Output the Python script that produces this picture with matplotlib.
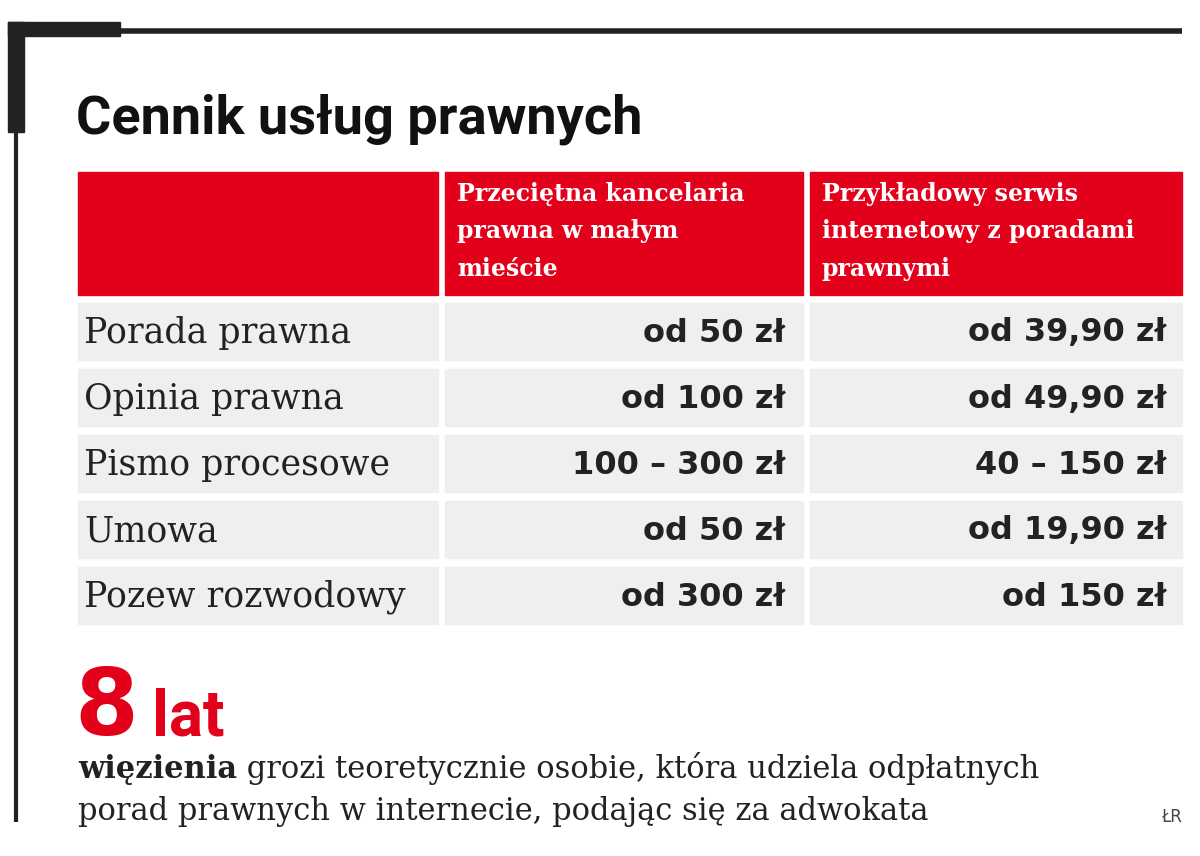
import matplotlib.pyplot as plt
from matplotlib.patches import Rectangle

title = "Cennik usług prawnych"
headers = ["Przeciętna kancelaria\nprawna w małym\nmieście",
           "Przykładowy serwis\ninternetowy z poradami\nprawnymi"]
services = ["Porada prawna", "Opinia prawna", "Pismo procesowe", "Umowa", "Pozew rozwodowy"]
kancelaria = ["od 50 zł", "od 100 zł", "100 – 300 zł", "od 50 zł", "od 300 zł"]
serwis = ["od 39,90 zł", "od 49,90 zł", "40 – 150 zł", "od 19,90 zł", "od 150 zł"]
big_number = "8"
big_unit = "lat"
note_bold = "więzienia"
note_rest = " grozi teoretycznie osobie, która udziela odpłatnych"
note_line2 = "porad prawnych w internecie, podając się za adwokata"
credit = "ŁR"

RED = "#e2001a"
GRAY = "#efefef"

fig = plt.figure(figsize=(12, 8.56), dpi=100)
ax = fig.add_axes([0, 0, 1, 1])
ax.set_xlim(0, 1200)
ax.set_ylim(856, 0)
ax.axis("off")

# frame
ax.plot([10, 1182], [31, 31], color="#222222", lw=4, solid_capstyle="butt")
ax.add_patch(Rectangle((8, 22), 112, 14, color="#222222"))
ax.plot([16, 16], [22, 822], color="#222222", lw=3, solid_capstyle="butt")
ax.add_patch(Rectangle((8, 22), 16, 110, color="#222222"))

ax.text(76, 133, title, fontsize=39, fontweight="bold", family="Roboto",
        color="#111111", va="baseline")

cols = [(78, 438), (445, 803), (810, 1182)]
ax.add_patch(Rectangle((78, 172), 360, 123, color=RED))
for (x0, x1), h in zip(cols[1:], headers):
    ax.add_patch(Rectangle((x0, 172), x1 - x0, 123, color=RED))
    ax.text(x0 + 12, 182, h, fontsize=17, fontweight="bold", family="DejaVu Serif",
            color="white", va="top", linespacing=1.7)

row_top = 303
row_h = 66
for i, (s, k, w) in enumerate(zip(services, kancelaria, serwis)):
    y0 = row_top + i * row_h
    for x0, x1 in cols:
        ax.add_patch(Rectangle((x0, y0), x1 - x0, 57, color=GRAY))
    yc = y0 + 30
    ax.text(84, yc, s, fontsize=25, family="DejaVu Serif", color="#222222", va="center")
    ax.text(785, yc, k, fontsize=23, fontweight="bold", family="DejaVu Sans",
            color="#222222", va="center", ha="right")
    ax.text(1166, yc, w, fontsize=23, fontweight="bold", family="DejaVu Sans",
            color="#222222", va="center", ha="right")

ax.text(74, 735, big_number, fontsize=66, fontweight="bold", family="DejaVu Sans",
        color=RED, va="baseline")
ax.text(152, 735, big_unit, fontsize=46, fontweight="bold", family="Roboto",
        color=RED, va="baseline")

t = ax.text(78, 778, note_bold, fontsize=22, fontweight="bold", family="DejaVu Serif",
            color="#222222", va="baseline")
fig.canvas.draw()
bb = t.get_window_extent()
ax.text(78 + bb.width, 778, note_rest, fontsize=22, family="DejaVu Serif",
        color="#222222", va="baseline")
ax.text(78, 820, note_line2, fontsize=22, family="DejaVu Serif",
        color="#222222", va="baseline")
ax.text(1182, 822, credit, fontsize=12, family="DejaVu Sans", color="#444444",
        va="baseline", ha="right")

fig.savefig("out.png", dpi=100)
